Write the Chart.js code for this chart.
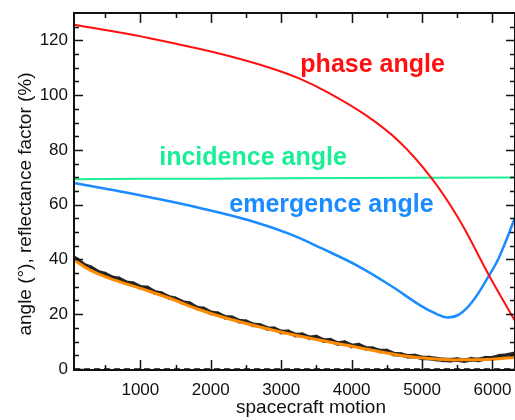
<!DOCTYPE html>
<html>
<head>
<meta charset="utf-8">
<script src="https://cdn.jsdelivr.net/npm/chart.js@4.4.0/dist/chart.umd.min.js"></script>
<style>
  html,body{margin:0;padding:0;background:#fff;overflow:hidden;}
  canvas{display:block;}
</style>
</head>
<body>
<canvas id="geoChart" width="515" height="420"></canvas>
<script>
// x range of the plot
const xMin = 58, xMax = 6320;
const yMin = -0.4, yMax = 130;

// phase angle (red)
const phaseX = [58, 565, 1133, 1700, 2270, 2837, 3262, 3688, 4206, 4678, 5132, 5529, 5940, 6320];
const phaseY = [125.7, 123.5, 120.8, 117.7, 114.2, 110.0, 106.0, 100.6, 92.6, 83.0, 69.8, 54.5, 34.7, 17.5];

// incidence angle (green)
const incX = [58, 1000, 2000, 3000, 4000, 5000, 6320];
const incY = [69.3, 69.5, 69.5, 69.6, 69.7, 69.8, 69.9];

// emergence angle (blue)
const emX = [58, 565, 1133, 1844, 2553, 3117, 3586, 4111, 4580, 4962, 5203, 5359, 5529, 5713, 5940, 6096, 6320];
const emY = [67.9, 65.5, 62.7, 58.8, 54.2, 49.3, 43.9, 37.3, 30.0, 23.4, 20.1, 18.8, 19.9, 24.5, 33.6, 40.9, 55.2];

// reflectance factor, fit (orange)
const fitX = [58, 281, 565, 990, 1416, 1841, 2223, 3071, 4016, 4725, 5057, 5387, 5529, 5997, 6320];
const fitY = [39.8, 36.2, 33.1, 29.5, 25.8, 21.6, 18.5, 13.0, 8.2, 4.8, 3.9, 3.3, 3.3, 3.5, 4.3];

// reflectance factor, measured (black, noisy)
const measX = [60, 100, 200, 300, 400, 500, 600, 700, 800, 900, 1000, 1100, 1200, 1300, 1400, 1500, 1600, 1700, 1800, 1900,
  2000, 2100, 2200, 2300, 2400, 2500, 2600, 2700, 2800, 2900, 3000, 3100, 3200, 3300, 3400, 3500, 3600, 3700, 3800, 3900,
  4000, 4100, 4200, 4300, 4400, 4500, 4600, 4700, 4800, 4900, 5000, 5100, 5200, 5300, 5400, 5500, 5600, 5700, 5800, 5900,
  6000, 6100, 6200, 6320];
const measY = [40.6, 39.9, 37.9, 36.9, 35.3, 34.6, 33.3, 32.9, 31.5, 31.1, 29.8, 29.6, 28.0, 27.5, 26.2, 25.6, 24.3, 23.8, 22.3, 21.9,
  20.5, 20.2, 18.9, 18.7, 17.5, 17.2, 16.1, 15.9, 14.8, 14.7, 13.5, 13.6, 12.4, 12.5, 11.4, 11.6, 10.4, 10.5, 9.3, 9.6,
  8.4, 8.7, 7.5, 7.4, 6.5, 6.5, 5.4, 5.3, 4.6, 4.7, 4.0, 4.0, 3.6, 3.3, 3.2, 3.4, 3.0, 3.5, 3.3, 3.9,
  3.9, 4.6, 4.9, 5.6];

// dashed zero reference
const zeroX = [xMin, xMax];
const zeroY = [0, 0];

// tick values
const xTicks = [1000, 2000, 3000, 4000, 5000, 6000];
const xMinor = [500, 1500, 2500, 3500, 4500, 5500];
const yTicks = [0, 20, 40, 60, 80, 100, 120];
const yMinor = [5, 10, 15, 25, 30, 35, 45, 50, 55, 65, 70, 75, 85, 90, 95, 105, 110, 115, 125];

// curve labels
const labelText = ['phase angle', 'incidence angle', 'emergence angle'];
const labelX = [4298, 2600, 3713];
const labelY = [111.1, 77.1, 59.9];
const labelColor = ['#ff1010', '#1aef96', '#1a8cff'];

const xTitle = 'spacecraft motion';
const yTitle = 'angle (°), reflectance factor (%)';

const pts = (xs, ys) => xs.map((x, i) => ({x: x, y: ys[i]}));

const frame = {
  id: 'frame',
  afterDatasetsDraw(chart) {
    const {ctx, chartArea: a, scales: {x, y}} = chart;
    ctx.save();
    ctx.strokeStyle = '#111';
    ctx.lineWidth = 2;
    ctx.strokeRect(a.left, a.top, a.right - a.left, a.bottom - a.top);
    ctx.beginPath();
    const tx = (v, len) => {
      const p = Math.round(x.getPixelForValue(v)) + 0.5;
      ctx.moveTo(p, a.bottom); ctx.lineTo(p, a.bottom - len);
      ctx.moveTo(p, a.top); ctx.lineTo(p, a.top + len);
    };
    const ty = (v, len) => {
      const p = Math.round(y.getPixelForValue(v)) + 0.5;
      ctx.moveTo(a.left, p); ctx.lineTo(a.left + len, p);
      ctx.moveTo(a.right, p); ctx.lineTo(a.right - len, p);
    };
    xTicks.forEach(v => tx(v, 10));
    xMinor.forEach(v => tx(v, 5));
    yTicks.forEach(v => ty(v, 9));
    yMinor.forEach(v => ty(v, 5));
    ctx.lineWidth = 1.5;
    ctx.stroke();

    ctx.font = 'bold 25px "Liberation Sans", Arial, sans-serif';
    ctx.textAlign = 'center';
    ctx.textBaseline = 'middle';
    labelText.forEach((t, i) => {
      ctx.fillStyle = labelColor[i];
      ctx.fillText(t, x.getPixelForValue(labelX[i]), y.getPixelForValue(labelY[i]));
    });

    // axis titles
    ctx.fillStyle = '#111';
    ctx.font = '19px "Liberation Sans", Arial, sans-serif';
    ctx.fillText(xTitle, 311, 408);
    ctx.translate(26, 204);
    ctx.rotate(-Math.PI / 2);
    ctx.fillText(yTitle, 0, 0);
    ctx.restore();
  }
};

const tickFont = {family: '"Liberation Sans", Arial, sans-serif', size: 17};

new Chart(document.getElementById('geoChart'), {
  type: 'scatter',
  data: {
    datasets: [
      {data: pts(fitX, fitY), showLine: true, borderColor: '#ff8c00', borderWidth: 3, pointRadius: 0, tension: 0.4, order: 1},
      {data: pts(measX, measY), showLine: true, borderColor: 'rgba(0,0,0,0.85)', borderWidth: 4.5, pointStyle: 'cross', pointRadius: 2.5, pointBorderColor: 'rgba(30,30,30,0.8)', pointBorderWidth: 1, order: 2},
      {data: pts(phaseX, phaseY), showLine: true, borderColor: '#ff1010', borderWidth: 2, pointRadius: 0, tension: 0.4, order: 3},
      {data: pts(incX, incY), showLine: true, borderColor: '#1aef96', borderWidth: 2, pointRadius: 0, order: 4},
      {data: pts(emX, emY), showLine: true, borderColor: '#1a8cff', borderWidth: 2.5, pointRadius: 0, tension: 0.4, order: 5},
      {data: pts(zeroX, zeroY), showLine: true, borderColor: '#111', borderWidth: 1.5, borderDash: [6, 4], pointRadius: 0, order: 6}
    ]
  },
  options: {
    responsive: false,
    animation: false,
    devicePixelRatio: 1,
    layout: {autoPadding: false, padding: {top: 13, right: 0, left: 0, bottom: 0}},
    plugins: {legend: {display: false}, tooltip: {enabled: false}},
    scales: {
      x: {
        type: 'linear', min: xMin, max: xMax,
        grid: {display: false, drawTicks: false},
        border: {display: false},
        afterBuildTicks: s => { s.ticks = xTicks.map(v => ({value: v})); },
        afterFit: s => { s.height = 50; s.paddingLeft = 0; s.paddingRight = 0; },
        ticks: {font: tickFont, color: '#111', padding: 10, maxRotation: 0, callback: v => String(v)}
      },
      y: {
        min: yMin, max: yMax,
        grid: {display: false, drawTicks: false},
        border: {display: false},
        afterBuildTicks: s => { s.ticks = yTicks.map(v => ({value: v})); },
        afterFit: s => { s.width = 74; s.paddingTop = 0; s.paddingBottom = 0; },
        ticks: {font: tickFont, color: '#111', padding: 6, callback: v => String(v)}
      }
    }
  },
  plugins: [frame]
});
</script>
</body>
</html>
